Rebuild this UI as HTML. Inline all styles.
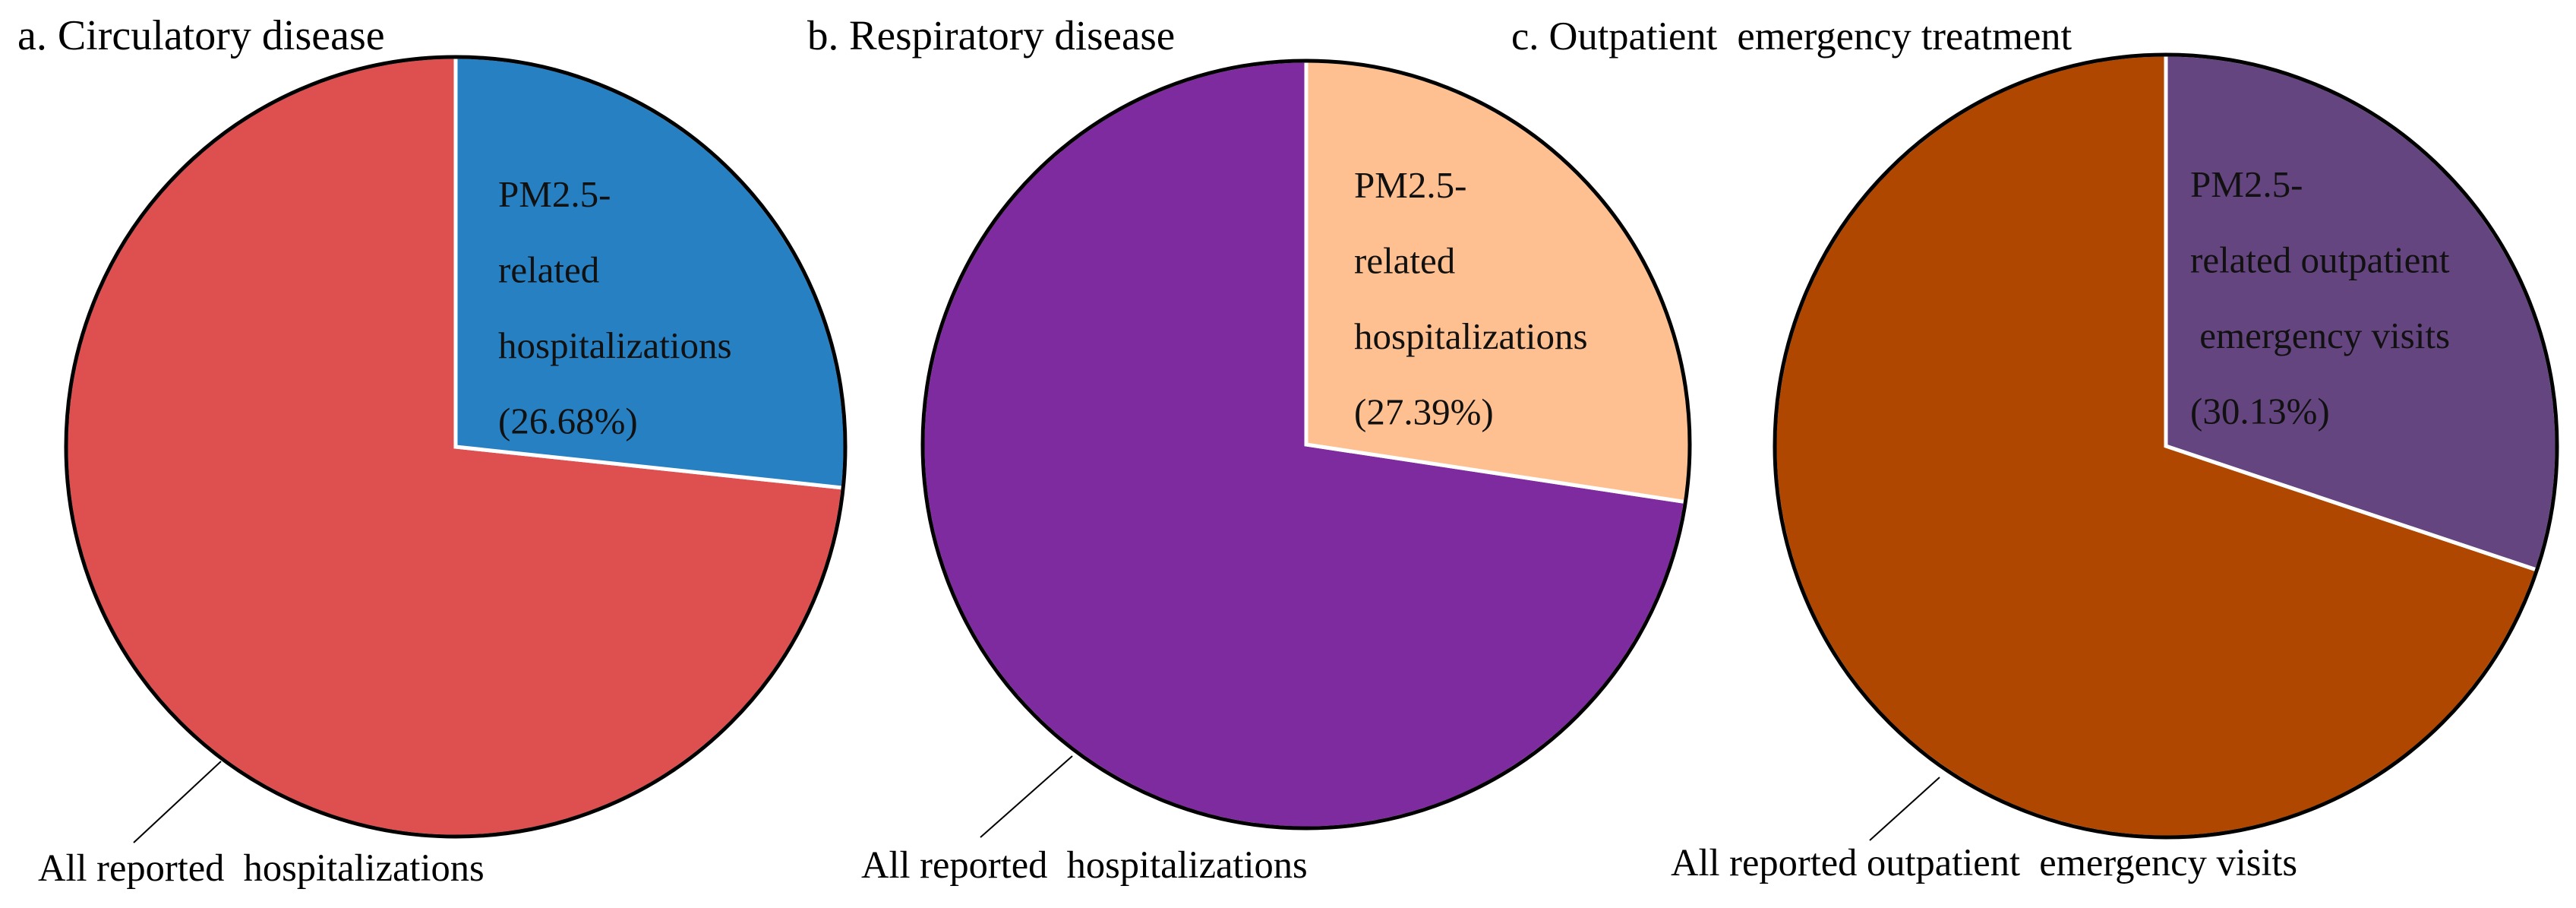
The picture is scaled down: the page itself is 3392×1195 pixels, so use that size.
<!DOCTYPE html>
<html><head><meta charset="utf-8"><style>
html,body{margin:0;padding:0;background:#fff;}
svg{display:block;font-family:"Liberation Serif",serif;}
</style></head><body>
<svg id="chart" width="3392" height="1195" viewBox="0 0 3392 1195"></svg>
<script>
const panelTitles = ["a. Circulatory disease", "b. Respiratory disease", "c. Outpatient  emergency treatment"];
const pmShares = [26.68, 27.39, 30.13];
const pmLabelLines = [
  ["PM2.5-", "related", "hospitalizations"],
  ["PM2.5-", "related", "hospitalizations"],
  ["PM2.5-", "related outpatient", " emergency visits"]
];
const allLabels = ["All reported  hospitalizations", "All reported  hospitalizations", "All reported outpatient  emergency visits"];
const pmColors = ["#2680C2", "#FEC090", "#654580"];
const restColors = ["#DE5050", "#7F2BA0", "#B04700"];

const layout = [
  {cx:600, cy:588, r:513, tx:23, ts:56, lx:656, ly:272, bx:50, by:1159, l1:[176,1109], l2:[291,1002]},
  {cx:1720, cy:585, r:505, tx:1063, ts:55, lx:1783, ly:260, bx:1134, by:1155, l1:[1291,1102], l2:[1412,995]},
  {cx:2852, cy:587, r:515, tx:1990, ts:52.5, lx:2884, ly:259, bx:2200, by:1152, l1:[2462,1106], l2:[2554,1023]}
];
const NS = "http://www.w3.org/2000/svg";
const svg = document.getElementById("chart");
function mk(tag, attrs){const e=document.createElementNS(NS,tag);for(const k in attrs)e.setAttribute(k,attrs[k]);return e;}
function pt(L,frac){const a=frac*2*Math.PI;return [L.cx+L.r*Math.sin(a), L.cy-L.r*Math.cos(a)];}

panelTitles.forEach((t,i)=>{
  const L = layout[i];
  const f = pmShares[i]/100;
  const p0 = pt(L,0), p1 = pt(L,f);
  const g = mk("g",{});
  
  
  svg.appendChild(g);

  const rest = mk("path",{d:`M${L.cx},${L.cy} L${p1[0]},${p1[1]} A${L.r},${L.r} 0 ${1-f>0.5?1:0} 1 ${p0[0]},${p0[1]} Z`, fill:restColors[i], stroke:"#fff", "stroke-width":5, "stroke-linejoin":"miter"});
  
  
  g.appendChild(rest);

  const pm = mk("path",{d:`M${L.cx},${L.cy} L${p0[0]},${p0[1]} A${L.r},${L.r} 0 ${f>0.5?1:0} 1 ${p1[0]},${p1[1]} Z`, fill:pmColors[i], stroke:"#fff", "stroke-width":5});
  
  
  g.appendChild(pm);

  const ring = mk("circle",{cx:L.cx, cy:L.cy, r:L.r, fill:"none", stroke:"#000", "stroke-width":5});
  
  
  g.appendChild(ring);

  const title = mk("text",{x:L.tx, y:65, "font-size":L.ts, fill:"#000"});
  title.textContent = t;
  
  
  title.style.whiteSpace = "pre";
  g.appendChild(title);

  const lines = pmLabelLines[i].concat(["(" + pmShares[i].toFixed(2) + "%)"]);
  lines.forEach((ln,j)=>{
    const tx = mk("text",{x:L.lx, y:L.ly + j*99.5, "font-size":49, fill:"#111"});
    tx.textContent = ln;
    tx.style.whiteSpace = "pre";
    
    
    g.appendChild(tx);
  });

  const leader = mk("line",{x1:L.l1[0], y1:L.l1[1], x2:L.l2[0], y2:L.l2[1], stroke:"#000", "stroke-width":2});
  
  
  g.appendChild(leader);

  const bl = mk("text",{x:L.bx, y:L.by, "font-size":50.5, fill:"#000"});
  bl.textContent = allLabels[i];
  bl.style.whiteSpace = "pre";
  
  
  g.appendChild(bl);
});
</script>
</body></html>
